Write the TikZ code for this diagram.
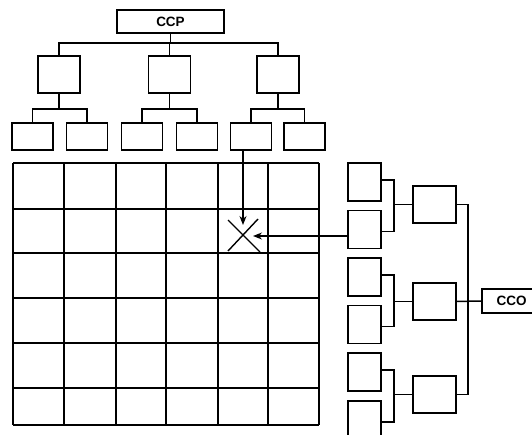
\documentclass[tikz,border=0pt]{standalone}
\usepackage{fontspec}
\setmainfont{Liberation Sans}
\usetikzlibrary{arrows.meta}
\begin{document}
\begin{tikzpicture}[x=1pt,y=-1pt,
  box/.style={draw,line width=1.8pt,inner sep=0pt,minimum width=#1},
  conn/.style={line width=1.5pt},
  arr/.style={line width=1.3pt,-{Stealth[length=9pt,width=7pt]}},
  gridline/.style={line width=1.3pt},
  lbl/.style={font=\bfseries\fontsize{13.5}{15}\selectfont}]
\useasboundingbox (0,0) rectangle (532,435);
\clip (0,0) rectangle (532,435);
% top tree
\node[box=107pt,minimum height=23pt,lbl] (ccp) at (170.5,21.5) {CCP};
\foreach \n/\x in {m1/59,m2/169.5,m3/278}
  \node[box=42pt,minimum height=37pt] (\n) at (\x,74.5) {};
\foreach \n/\x in {l1/32.5,l2/87,l3/142,l4/197,l5/251,l6/304.5}
  \node[box=41pt,minimum height=27pt] (\n) at (\x,136.5) {};
\coordinate (bus1) at (0,43);
\draw[conn] (ccp.south) -- (ccp.south |- bus1);
\draw[conn] (m1.north) |- (bus1 -| m2.north) -| (m3.north);
\draw[conn] (m2.north) -- (m2.north |- bus1);
\foreach \m/\a/\b in {m1/l1/l2,m2/l3/l4,m3/l5/l6}{
  \coordinate (b-\m) at (0,109);
  \draw[conn] (\m.south) -- (\m.south |- b-\m);
  \draw[conn] (\a.north) |- (b-\m -| \m.south) -| (\b.north);
}
% grid
\foreach \x in {13,64,116,166,218,268,319}
  \draw[gridline] (\x,163) -- (\x,425);
\foreach \y in {163,209,253,298,343,388,425}
  \draw[gridline] (13,\y) -- (319,\y);
% cross
\coordinate (X) at (243,236);
\draw[line width=1.4pt] (228,220) -- (260,252);
\draw[line width=1.4pt] (258,219) -- (228,251);
% right tree
\foreach \n/\y in {r1/182,r2/229.5,r3/277,r4/324.5,r5/372,r6/420}
  \node[box=33pt,minimum height=38pt] (\n) at (364.5,\y) {};
\foreach \n/\y in {s1/204.5,s2/301.5,s3/394.5}
  \node[box=43pt,minimum height=37pt] (\n) at (434.5,\y) {};
\node[box=59pt,minimum height=24pt,lbl] (cco) at (511.5,301) {CCO};
\foreach \a/\b/\s in {r1/r2/s1,r3/r4/s2,r5/r6/s3}{
  \coordinate (k-\s) at (394,0);
  \draw[conn] ([yshift=2pt]\a.east) -| (k-\s |- \s.west) |- ([yshift=-2pt]\b.east);
  \draw[conn] (k-\s |- \s.west) -- (\s.west);
}
\coordinate (rbus) at (468,0);
\draw[conn] (s1.east) -| (rbus |- s2.east) |- (s3.east);
\draw[conn] (s2.east) -- (cco.west);
% arrows
\draw[arr] (X |- l5.south) -- ([yshift=11pt]X);
\draw[arr] (r2.west |- X) -- ([xshift=10pt]X);
\end{tikzpicture}
\end{document}
